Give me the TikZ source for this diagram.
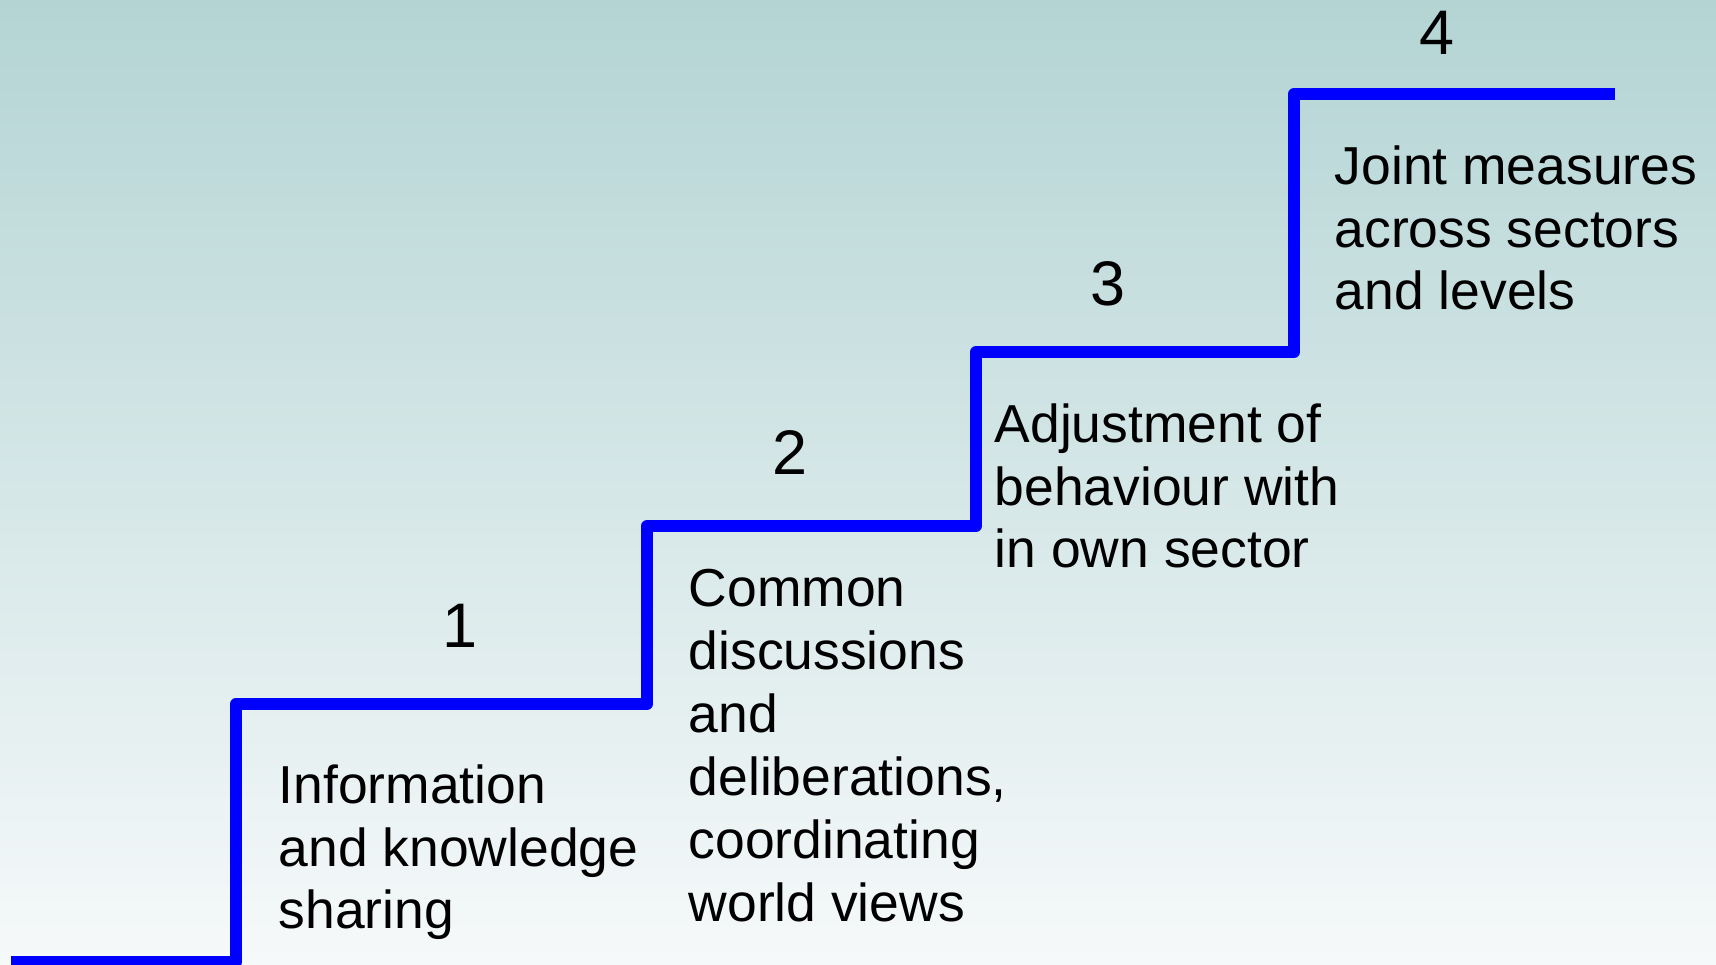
\documentclass[tikz,border=0pt]{standalone}
\usepackage{fontspec}
\setmainfont{Liberation Sans}
\usepackage{xcolor}
\usetikzlibrary{positioning}
\definecolor{bgtop}{RGB}{180,212,212}
\definecolor{bgbottom}{RGB}{246,249,250}
\definecolor{stairblue}{RGB}{0,0,255}

\begin{document}
\begin{tikzpicture}[
			     x=0.01cm, y=-0.01cm,
			     stair line/.style={draw=stairblue, line width=0.12cm, line join=round},
			     stepnum/.style={inner sep=0pt, anchor=base, font=\fontsize{17.9}{20}\selectfont},
			     steptext/.style={inner sep=0pt, anchor=base west, align=left, font=\fontsize{15.2}{17.9}\selectfont}
			     ]
% background
\shade[top color=bgtop, bottom color=bgbottom] (0,0) rectangle (1716,965);
\useasboundingbox (0,0) rectangle (1716,965);
% corners of the staircase
\coordinate (s0) at (11,962);
\coordinate (c1) at (236,962);
\coordinate (t1) at (236,704);
\coordinate (c2) at (647,704);
\coordinate (t2) at (647,526);
\coordinate (c3) at (976,526);
\coordinate (t3) at (976,352);
\coordinate (c4) at (1294,352);
\coordinate (t4) at (1294,94);
\coordinate (s4) at (1615,94);
\path[stair line] (s0) -- (c1) -- (t1) -- (c2) -- (t2) -- (c3) -- (t3) -- (c4) -- (t4) -- (s4);
% step numbers
\node[stepnum] (n1) at (460,648) {1};
\node[stepnum] (n2) at (790,475) {2};
\node[stepnum] (n3) at (1108,306) {3};
\node[stepnum] (n4) at (1437,55) {4};
% step texts (anchored at the baseline of their last line)
\node[steptext] (info) at (278,929) {Information\\and knowledge\\sharing};
\node[steptext] (common) at (688,921) {Common\\discussions\\and\\deliberations,\\coordinating\\world views};
\node[steptext] (adjust) at (994,568) {Adjustment of\\behaviour with\\in own sector};
\node[steptext] (joint) at (1334,310) {Joint measures\\across sectors\\and levels};
\end{tikzpicture}
\end{document}
